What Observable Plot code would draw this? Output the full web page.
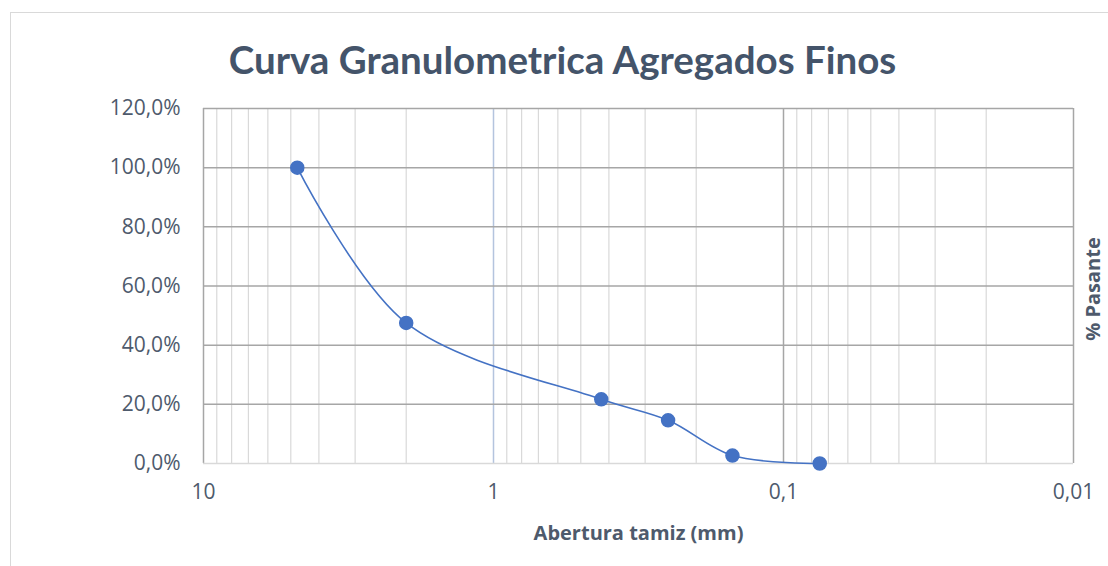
<!DOCTYPE html>
<html><head><meta charset="utf-8">
<script src="https://cdn.jsdelivr.net/npm/d3@7"></script>
<script src="https://cdn.jsdelivr.net/npm/@observablehq/plot@0.6"></script>
<style>
body{margin:0;background:#fff;}
#wrap{position:relative;width:1108px;height:566px;overflow:hidden;background:#fff}
#border{position:absolute;left:10px;top:12px;width:1200px;height:700px;border:1px solid #d9d9d9}
#chart{position:absolute;left:0;top:0}
</style>
</head><body>
<div id="wrap"><div id="border"></div><div id="chart"></div></div>
<script>
// Data: sieve opening (mm) and % passing
const aberturas = [4.75, 2.0, 0.425, 0.25, 0.15, 0.075];
const pasante = [100, 47.5, 21.7, 14.6, 2.7, 0];
const yTicks = [0, 20, 40, 60, 80, 100, 120];
const xMajorTicks = [10, 1, 0.1, 0.01];
const xTickLabels = ["10", "1", "0,1", "0,01"];
const xMinorTicks = [1, 0.1, 0.01].flatMap(d => [2,3,4,5,6,7,8,9].map(k => +(k * d).toPrecision(3)));
const title = "Curva Granulometrica Agregados Finos";
const xTitle = "Abertura tamiz (mm)";
const yTitle = "% Pasante";

const data = aberturas.map((a, i) => ({a, p: pasante[i]}));
const tickFont = "'Open Sans', sans-serif";
const textCol = "#4e5a6c";

const chart = Plot.plot({
  width: 1108,
  height: 566,
  marginLeft: 203,
  marginRight: 35,
  marginTop: 108,
  marginBottom: 103,
  style: {fontFamily: tickFont, background: "transparent", overflow: "visible"},
  x: {type: "log", domain: [10, 0.01], label: null},
  y: {domain: [0, 120], label: null},
  marks: [
    Plot.ruleX(xMinorTicks, {stroke: "#d9d9d9", strokeWidth: 1.2}),
    Plot.ruleX(xMajorTicks.filter(d => d !== 1), {stroke: "#a6a6a6", strokeWidth: 1.5}),
    Plot.ruleX([1], {stroke: "#b4c4de", strokeWidth: 1.5}),
    Plot.ruleY(yTicks.filter(d => d > 0), {stroke: "#a6a6a6", strokeWidth: 1.5}),
    Plot.ruleY([0], {stroke: "#d9d9d9", strokeWidth: 1.5}),
    Plot.axisX({ticks: xMajorTicks, tickFormat: d => xTickLabels[xMajorTicks.indexOf(d)] ?? "", tickSize: 0, tickPadding: 21, fontSize: 21, fill: textCol, label: null}),
    Plot.axisY({ticks: yTicks, tickFormat: d => d.toFixed(1).replace(".", ",") + "%", tickSize: 0, tickPadding: 23, fontSize: 21, fill: textCol, label: null}),
    Plot.line(data, {x: "a", y: "p", curve: "catmull-rom", stroke: "#4472C4", strokeWidth: 1.6}),
    Plot.dot(data, {x: "a", y: "p", r: 6.5, fill: "#4472C4", stroke: "#4472C4"}),
    Plot.text([title], {frameAnchor: "top", textAnchor: "middle", lineAnchor: "middle", dx: -76, dy: -47, fontFamily: "Lato, sans-serif", fontSize: 38.5, fontWeight: "bold", fill: "#44546A", text: d => d}),
    Plot.text([xTitle], {frameAnchor: "bottom", textAnchor: "middle", lineAnchor: "middle", dy: 70, fontSize: 20, fontWeight: "bold", fill: textCol, text: d => d}),
    Plot.text([yTitle], {frameAnchor: "right", textAnchor: "middle", lineAnchor: "middle", dx: 20, dy: 3, rotate: -90, fontSize: 20, fontWeight: "bold", fill: textCol, text: d => d})
  ]
});
document.getElementById("chart").appendChild(chart);
</script>
</body></html>
